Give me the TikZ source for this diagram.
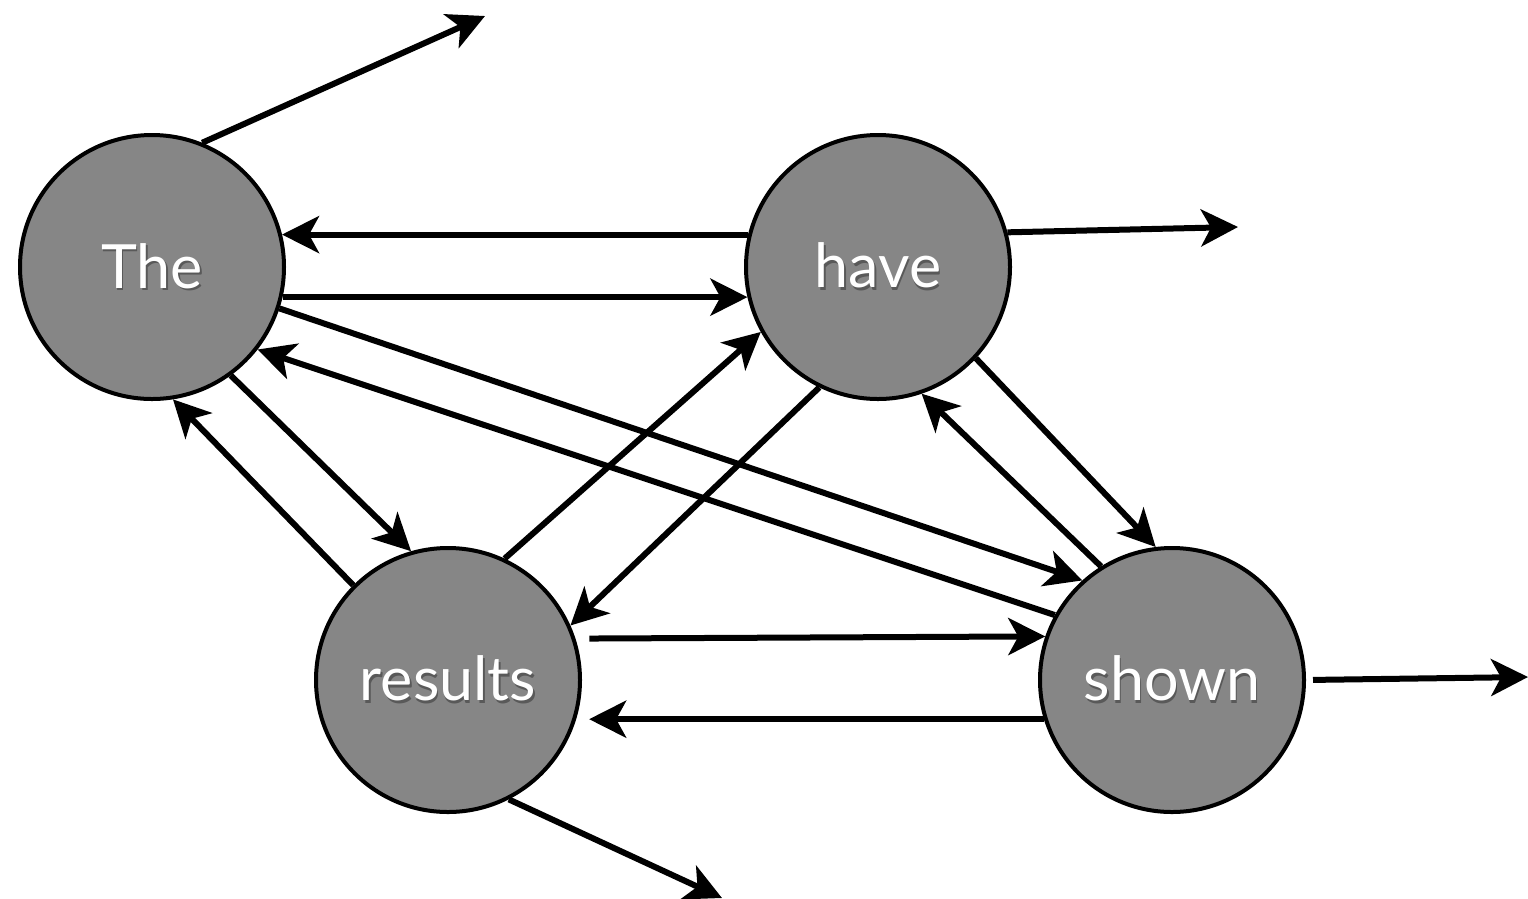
\documentclass[tikz,border=0pt]{standalone}
\usepackage{fontspec}
\setmainfont{Lato}
\usetikzlibrary{arrows.meta}
\definecolor{nodegray}{RGB}{134,134,134}
\newcommand\wordlabel[1]{\makebox[0pt][l]{\raisebox{-2.5pt}{\hspace{1.5pt}\color{black!65}#1}}\textcolor{white}{#1}}
\begin{document}
\begin{tikzpicture}[x=1pt,y=-1pt,
  word/.style={circle,draw=black,line width=4pt,fill=nodegray,minimum size=264pt,inner sep=0pt,font=\fontsize{61}{61}\selectfont},
  arr/.style={line width=6pt,-{Stealth[length=37pt,width=37pt,inset=10pt]}}]
\useasboundingbox (0,0) rectangle (1528,898);
\node[word] (The) at (152,267) {\wordlabel{The}};
\node[word] (have) at (878,267) {\wordlabel{have}};
\node[word] (results) at (448,680) {\wordlabel{results}};
\node[word] (shown) at (1172,680) {\wordlabel{shown}};
\coordinate (outThe) at (485,16);
\coordinate (outhave) at (1238,227);
\coordinate (outshown) at (1528,677);
\coordinate (outresults) at (722,898);
\draw[arr] (The.68) -- (outThe);
\draw[arr] (have.15) -- (outhave);
\draw[arr,shorten <=7pt] (shown.0) -- (outshown);
\draw[arr] (results.-63) -- (outresults);
\draw[arr] (have.166) -- (The.14);
\draw[arr] (The.-13.4) -- (have.193.4);
\draw[arr] (The.-18.3) -- (shown.132.3);
\draw[arr] (shown.151.3) -- (The.-38);
\draw[arr] (The.-54.2) -- (results.106.9);
\draw[arr] (results.135.3) -- (The.-81.8);
\draw[arr] (results.65) -- (have.-151);
\draw[arr] (have.-116) -- (results.24.3);
\draw[arr] (have.-43.5) -- (shown.97.6);
\draw[arr] (shown.122.8) -- (have.-71.1);
\draw[arr,shorten <=14pt] (results.18.7) -- (shown.161.3);
\draw[arr,shorten >=13pt] (shown.197.3) -- (results.-17.3);
\end{tikzpicture}
\end{document}
